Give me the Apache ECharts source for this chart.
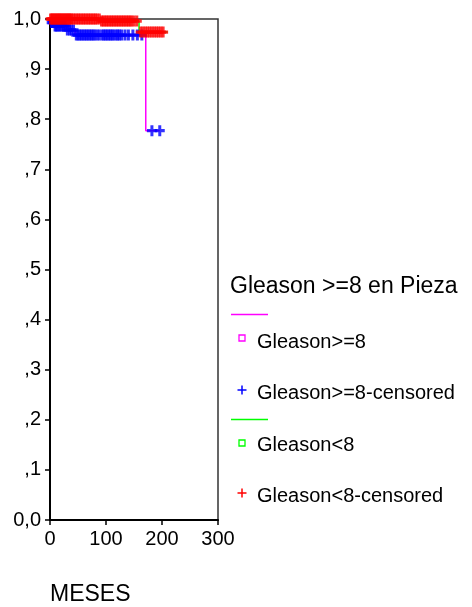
<!DOCTYPE html>
<html>
<head>
<meta charset="utf-8">
<script src="https://cdn.jsdelivr.net/npm/echarts@6/dist/echarts.min.js"></script>
<style>
  html, body { margin: 0; padding: 0; background: #fff; }
  #chart { width: 472px; height: 607px; }
</style>
</head>
<body>
<div id="chart"></div>
<script>
// Kaplan-Meier survival by Gleason group (months of follow-up)
const xTicks = [0, 100, 200, 300];
const yTicks = [0, 0.1, 0.2, 0.3, 0.4, 0.5, 0.6, 0.7, 0.8, 0.9, 1.0];
const yTickLabels = ['0,0', ',1', ',2', ',3', ',4', ',5', ',6', ',7', ',8', ',9', '1,0'];

// Gleason >= 8: step curve (time, survival)
const highTimes = [0, 2, 8, 30, 45, 171, 196];
const highSurv  = [1.0, 0.993, 0.986, 0.978, 0.968, 0.777, 0.777];
// Gleason >= 8: censored times
const highCensored = [3, 5, 7, 9, 11, 13, 16, 18, 21, 24, 27, 31, 35, 38, 42, 47, 50, 53, 56, 59,
  62, 65, 68, 71, 74, 77, 80, 84, 88, 93, 96, 99, 102, 105, 108, 111, 114, 118, 121, 124, 128,
  134, 140, 148, 156, 164, 182, 196];

// Gleason < 8: step curve
const lowTimes = [0, 90, 159, 210];
const lowSurv  = [1.0, 0.996, 0.974, 0.974];
// Gleason < 8: censored times
const lowCensored = [1, 3, 5, 7, 9, 11, 13, 15, 17, 19, 21, 23, 25, 27, 29, 31, 33, 35, 37, 39,
  42, 45, 48, 51, 54, 57, 60, 63, 66, 69, 72, 75, 78, 81, 84, 88, 92, 95, 98, 101, 104, 107,
  110, 113, 116, 119, 122, 125, 128, 131, 134, 137, 140, 143, 146, 150, 155,
  162, 166, 170, 174, 178, 182, 186, 190, 194, 198, 202];

const legendTitle = 'Gleason >=8 en Pieza';
const legendNames = ['Gleason>=8', 'Gleason>=8-censored', 'Gleason<8', 'Gleason<8-censored'];
const xName = 'MESES';

const MAGENTA = '#ff00ff', BLUE = '#0000ff', GREEN = '#00ff00', RED = '#ff0000';
const PLUS = 'path://M3.5,0H6.5V3.5H10V6.5H6.5V10H3.5V6.5H0V3.5H3.5Z';
const FONT = '"Liberation Sans", Arial, sans-serif';

function survAt(times, surv, t) {
  let s = surv[0];
  for (let i = 0; i < times.length; i++) { if (times[i] <= t) s = surv[i]; }
  return s;
}
const zip = (a, b) => a.map((v, i) => [v, b[i]]);
const censPts = (c, times, surv) => c.map(t => [t, survAt(times, surv, t)]);

const chart = echarts.init(document.getElementById('chart'), null, { renderer: 'canvas' });

// legend block coordinates
const LX = 231, SX = 242, TX = 257;
function legendText(y, text, size) {
  return { type: 'text', x: TX, y: y, style: { text: text, fill: '#000', font: size + 'px ' + FONT, textVerticalAlign: 'middle' } };
}
function plusMark(cx, cy, color) {
  return [
    { type: 'line', shape: { x1: cx - 4.5, y1: cy, x2: cx + 4.5, y2: cy }, style: { stroke: color, lineWidth: 1.5 } },
    { type: 'line', shape: { x1: cx, y1: cy - 4.5, x2: cx, y2: cy + 4.5 }, style: { stroke: color, lineWidth: 1.5 } }
  ];
}

chart.setOption({
  animation: false,
  backgroundColor: '#fff',
  grid: { left: 50, top: 19, width: 168, height: 501, show: true, borderColor: '#333', borderWidth: 1.5, backgroundColor: 'transparent' },
  xAxis: {
    type: 'value', min: 0, max: 300, interval: 100,
    axisLine: { show: true, onZero: false, lineStyle: { color: '#000', width: 2 } },
    axisTick: { show: true, length: 5, lineStyle: { color: '#000', width: 1.5 } },
    axisLabel: { color: '#000', fontSize: 20, fontFamily: FONT, margin: 9, formatter: v => xTicks.includes(v) ? String(v) : '' },
    splitLine: { show: false }
  },
  yAxis: {
    type: 'value', min: 0, max: 1, interval: 0.1,
    axisLine: { show: true, onZero: false, lineStyle: { color: '#000', width: 2 } },
    axisTick: { show: true, length: 5, lineStyle: { color: '#000', width: 1.5 } },
    axisLabel: { color: '#000', fontSize: 20, fontFamily: FONT, margin: 9,
      formatter: v => { const i = yTicks.findIndex(t => Math.abs(t - v) < 1e-6); return i >= 0 ? yTickLabels[i] : ''; } },
    splitLine: { show: false }
  },
  series: [
    { name: legendNames[0], type: 'line', step: 'end', data: zip(highTimes, highSurv), showSymbol: false,
      lineStyle: { color: MAGENTA, width: 1.5 }, clip: false, z: 2 },
    { name: legendNames[2], type: 'line', step: 'end', data: zip(lowTimes, lowSurv), showSymbol: false,
      lineStyle: { color: GREEN, width: 1.5 }, clip: false, z: 2 },
    { name: legendNames[1], type: 'scatter', data: censPts(highCensored, highTimes, highSurv),
      symbol: PLUS, symbolSize: [10, 11], itemStyle: { color: BLUE }, clip: false, z: 3 },
    { name: legendNames[3], type: 'scatter', data: censPts(lowCensored, lowTimes, lowSurv),
      symbol: PLUS, symbolSize: [10, 11], itemStyle: { color: RED }, clip: false, z: 4 }
  ],
  graphic: [
    { type: 'text', x: 230, y: 287, style: { text: legendTitle, fill: '#000', font: '23px ' + FONT, textVerticalAlign: 'middle' } },
    { type: 'line', shape: { x1: LX, y1: 314.5, x2: 268, y2: 314.5 }, style: { stroke: MAGENTA, lineWidth: 1.5 } },
    { type: 'rect', shape: { x: SX - 3, y: 335, width: 6, height: 6 }, style: { fill: 'none', stroke: MAGENTA, lineWidth: 1.3 } },
    legendText(342, legendNames[0], 20),
    ...plusMark(SX, 390, BLUE),
    legendText(393, legendNames[1], 20),
    { type: 'line', shape: { x1: LX, y1: 419.5, x2: 268, y2: 419.5 }, style: { stroke: GREEN, lineWidth: 1.5 } },
    { type: 'rect', shape: { x: SX - 3, y: 440, width: 6, height: 6 }, style: { fill: 'none', stroke: GREEN, lineWidth: 1.3 } },
    legendText(445, legendNames[2], 20),
    ...plusMark(SX, 493, RED),
    legendText(496, legendNames[3], 20),
    { type: 'text', x: 50, y: 595, style: { text: xName, fill: '#000', font: '23px ' + FONT, textVerticalAlign: 'middle' } }
  ]
});
</script>
</body>
</html>
